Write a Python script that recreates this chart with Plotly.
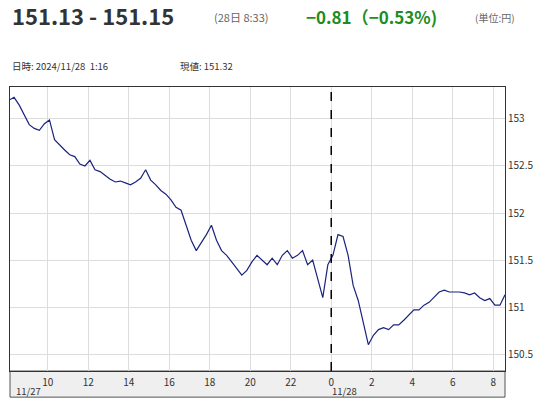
import plotly.graph_objects as go
import pandas as pd

start_time = "2024-11-27 08:05"
step = "15min"
prices = [153.2,153.23,153.15,153.04,152.94,152.9,152.88,152.95,152.99,152.78,152.72,152.67,152.62,152.6,152.52,152.5,152.56,152.46,152.44,152.4,152.36,152.33,152.34,152.32,152.3,152.33,152.37,152.46,152.35,152.3,152.24,152.2,152.14,152.06,152.03,151.87,151.71,151.6,151.68,151.77,151.87,151.71,151.6,151.55,151.48,151.41,151.34,151.39,151.48,151.55,151.5,151.45,151.52,151.45,151.55,151.6,151.52,151.55,151.6,151.45,151.5,151.29,151.1,151.45,151.55,151.77,151.75,151.55,151.23,151.07,150.85,150.6,150.7,150.76,150.78,150.76,150.81,150.81,150.86,150.91,150.97,150.97,151.02,151.05,151.1,151.16,151.18,151.16,151.16,151.16,151.15,151.13,151.15,151.1,151.07,151.09,151.02,151.02,151.13]
times = pd.date_range(start_time, periods=len(prices), freq=step)

tick_vals = pd.date_range("2024-11-27 10:00", "2024-11-28 08:00", freq="2h")
tick_text = ["10","12","14","16","18","20","22","0","2","4","6","8"]
y_ticks = [150.5, 151, 151.5, 152, 152.5, 153]
y_text = ["150.5", "151", "151.5", "152", "152.5", "153"]

F = "Noto Sans CJK JP"
fig = go.Figure(go.Scatter(x=times, y=prices, mode="lines",
                           line=dict(color="#1a237e", width=1.2), hoverinfo="skip"))

def px(x): return (x - 10) / 495
def py(y): return (371 - y) / 284

ann = [
    dict(text="<b>151.13 - 151.15</b>", x=px(10), y=py(15), size=22, color="#333333"),
    dict(text="(28日 8:33)", x=px(212), y=py(17), size=11, color="#666666"),
    dict(text="<b>−0.81（−0.53%)</b>", x=px(304), y=py(16), size=17, color="#1e8c1e"),
    dict(text="(単位:円)", x=px(473), y=py(17), size=10, color="#666666"),
    dict(text="日時: 2024/11/28  1:16", x=px(10), y=py(66), size=9.5, color="#333333"),
    dict(text="現値: 151.32", x=px(178), y=py(66), size=9.5, color="#333333"),
    dict(text="11/27", x=px(14), y=py(391), size=9.5, color="#333333"),
    dict(text="11/28", x=px(330), y=py(391), size=9.5, color="#333333"),
]
annotations = [dict(text=a["text"], x=a["x"], y=a["y"], xref="paper", yref="paper",
                    xanchor="left", yanchor="middle", showarrow=False,
                    font=dict(family=F, size=a["size"], color=a["color"])) for a in ann]

fig.update_layout(
    width=551, height=400, margin=dict(l=2, r=54, t=79, b=37),
    paper_bgcolor="white", plot_bgcolor="white", showlegend=False,
    font=dict(family=F, size=10, color="#333333"),
    annotations=annotations,
    shapes=[
        dict(type="rect", xref="paper", yref="paper", x0=0, x1=1, y0=-0.092, y1=0,
             fillcolor="#efefef", line=dict(color="#555555", width=1), layer="below"),
        dict(type="line", xref="x", yref="paper", x0="2024-11-28 00:00", x1="2024-11-28 00:00",
             y0=0, y1=1, line=dict(color="black", width=1.5, dash="dash")),
    ],
    xaxis=dict(range=["2024-11-27 08:08", "2024-11-28 08:35"], tickvals=tick_vals, ticktext=tick_text,
               showgrid=True, gridcolor="#dddddd", showline=True, linecolor="#333333", mirror=True,
               ticks="", ticklabelstandoff=2, tickfont=dict(size=10, color="#333333")),
    yaxis=dict(side="right", range=[150.32, 153.34], tickvals=y_ticks, ticktext=y_text,
               showgrid=True, gridcolor="#dddddd", showline=True, linecolor="#333333", mirror=True,
               ticks="", tickfont=dict(size=10, color="#333333")),
)
fig.write_html("out.html")
